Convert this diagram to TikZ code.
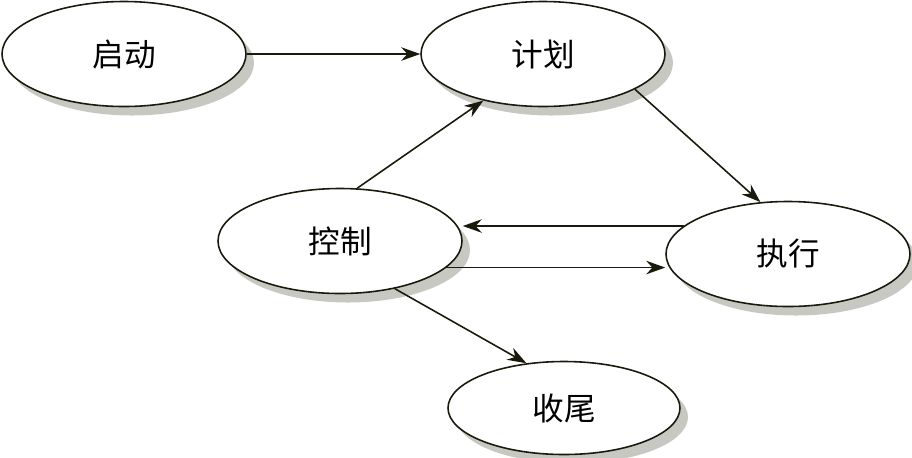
\documentclass[tikz,border=0pt]{standalone}
\usepackage{fontspec}
\newfontfamily\cjk{Noto Sans CJK SC}
\usetikzlibrary{shapes.geometric,shadows,arrows.meta}
\definecolor{linecol}{RGB}{26,26,12}
\definecolor{shadecol}{RGB}{200,200,194}
\tikzset{
  phase/.style={ellipse, draw=linecol, line width=0.9pt, fill=white,
    minimum width=4.88cm, minimum height=2.1cm, inner sep=0pt,
    font=\cjk\fontsize{18}{21}\selectfont,
    drop shadow={shadow xshift=0.16cm, shadow yshift=-0.18cm, fill=shadecol, opacity=1}},
  flow/.style={-{Stealth[length=0.38cm,width=0.27cm]}, draw=linecol, line width=0.9pt}
}
\begin{document}
\begin{tikzpicture}
                    \useasboundingbox (0,0) rectangle (18.24,-9.14);
                    % Nodes
                    \node[phase] (start) at (2.48,-1.08) {启动};
                    \node[phase] (plan) at (10.86,-1.08) {计划};
                    \node[phase] (ctrl) at (6.8,-4.82) {控制};
                    \node[phase] (exec) at (15.76,-5.08) {执行};
                    \node[phase, minimum width=4.64cm, minimum height=1.86cm] (close) at (11.28,-8.16) {收尾};
                    % Edges
                    \draw[flow] (start) -- (plan);
                    \draw[flow] (ctrl.72) -- (plan.218);
                    \draw[flow] (plan.-21) -- (exec.118);
                    \draw[flow] (exec.165) -- (exec.165 -| ctrl.east);
                    \draw[flow] (ctrl.-14) -- (ctrl.-14 -| exec.west);
                    \draw[flow] (ctrl.-41) -- (close.130);
                \end{tikzpicture}
\end{document}
